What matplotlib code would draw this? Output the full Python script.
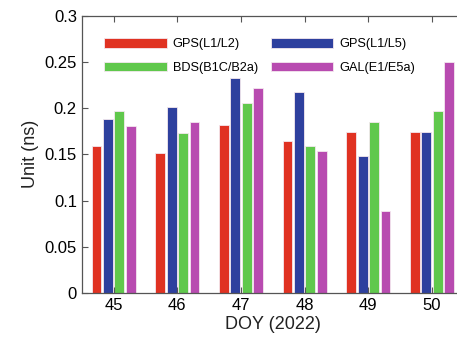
import matplotlib.pyplot as plt
import numpy as np

plt.rcParams['font.family'] = ['Liberation Sans', 'DejaVu Sans']

days = [45, 46, 47, 48, 49, 50]
gps_l1l2 = [0.159, 0.151, 0.182, 0.164, 0.174, 0.174]
gps_l1l5 = [0.188, 0.201, 0.233, 0.218, 0.148, 0.174]
bds_b1cb2a = [0.197, 0.173, 0.206, 0.159, 0.185, 0.197]
gal_e1e5a = [0.181, 0.185, 0.222, 0.154, 0.089, 0.250]
labels = ['GPS(L1/L2)', 'GPS(L1/L5)', 'BDS(B1C/B2a)', 'GAL(E1/E5a)']
colors = ['#E03222', '#2E409E', '#60C84C', '#B84BB0']

fig = plt.figure(figsize=(4.57, 3.52), dpi=100)
ax = fig.add_axes([0.179, 0.168, 0.836, 0.787])

x = np.array(days)
width = 0.155
step = 0.18
handles = []
for i, (vals, c, lab) in enumerate(zip([gps_l1l2, gps_l1l5, bds_b1cb2a, gal_e1e5a], colors, labels)):
    h = ax.bar(x + (i - 1.5) * step, vals, width, color=c, edgecolor='#f4e8ee',
               linewidth=0.6, label=lab)
    handles.append(h)

ax.set_xlim(44.5, 50.5)
ax.set_ylim(0, 0.3)
ax.set_xticks(days)
ax.set_yticks([0, 0.05, 0.1, 0.15, 0.2, 0.25, 0.3])
ax.set_yticklabels(['0', '0.05', '0.1', '0.15', '0.2', '0.25', '0.3'])
ax.tick_params(direction='in', top=True, right=False, labelsize=12,
               length=4, color='#555555', width=0.8)
for s in ax.spines.values():
    s.set_color('#555555')
    s.set_linewidth(0.9)
ax.spines['right'].set_visible(False)

ax.set_xlabel('DOY (2022)', fontsize=13, color='#222222', labelpad=2)
ax.set_ylabel('Unit (ns)', fontsize=13, color='#222222', labelpad=4)

# row-wise order like the original (column-major fill in matplotlib)
order = [0, 2, 1, 3]
ax.legend([handles[k] for k in order], [labels[k] for k in order],
          ncol=2, frameon=False, fontsize=9.2,
          loc='upper left', bbox_to_anchor=(0.029, 0.962),
          handlelength=4.9, handleheight=0.8, handletextpad=0.45,
          columnspacing=1.0, labelspacing=0.9)

plt.savefig('out.png', dpi=100)
